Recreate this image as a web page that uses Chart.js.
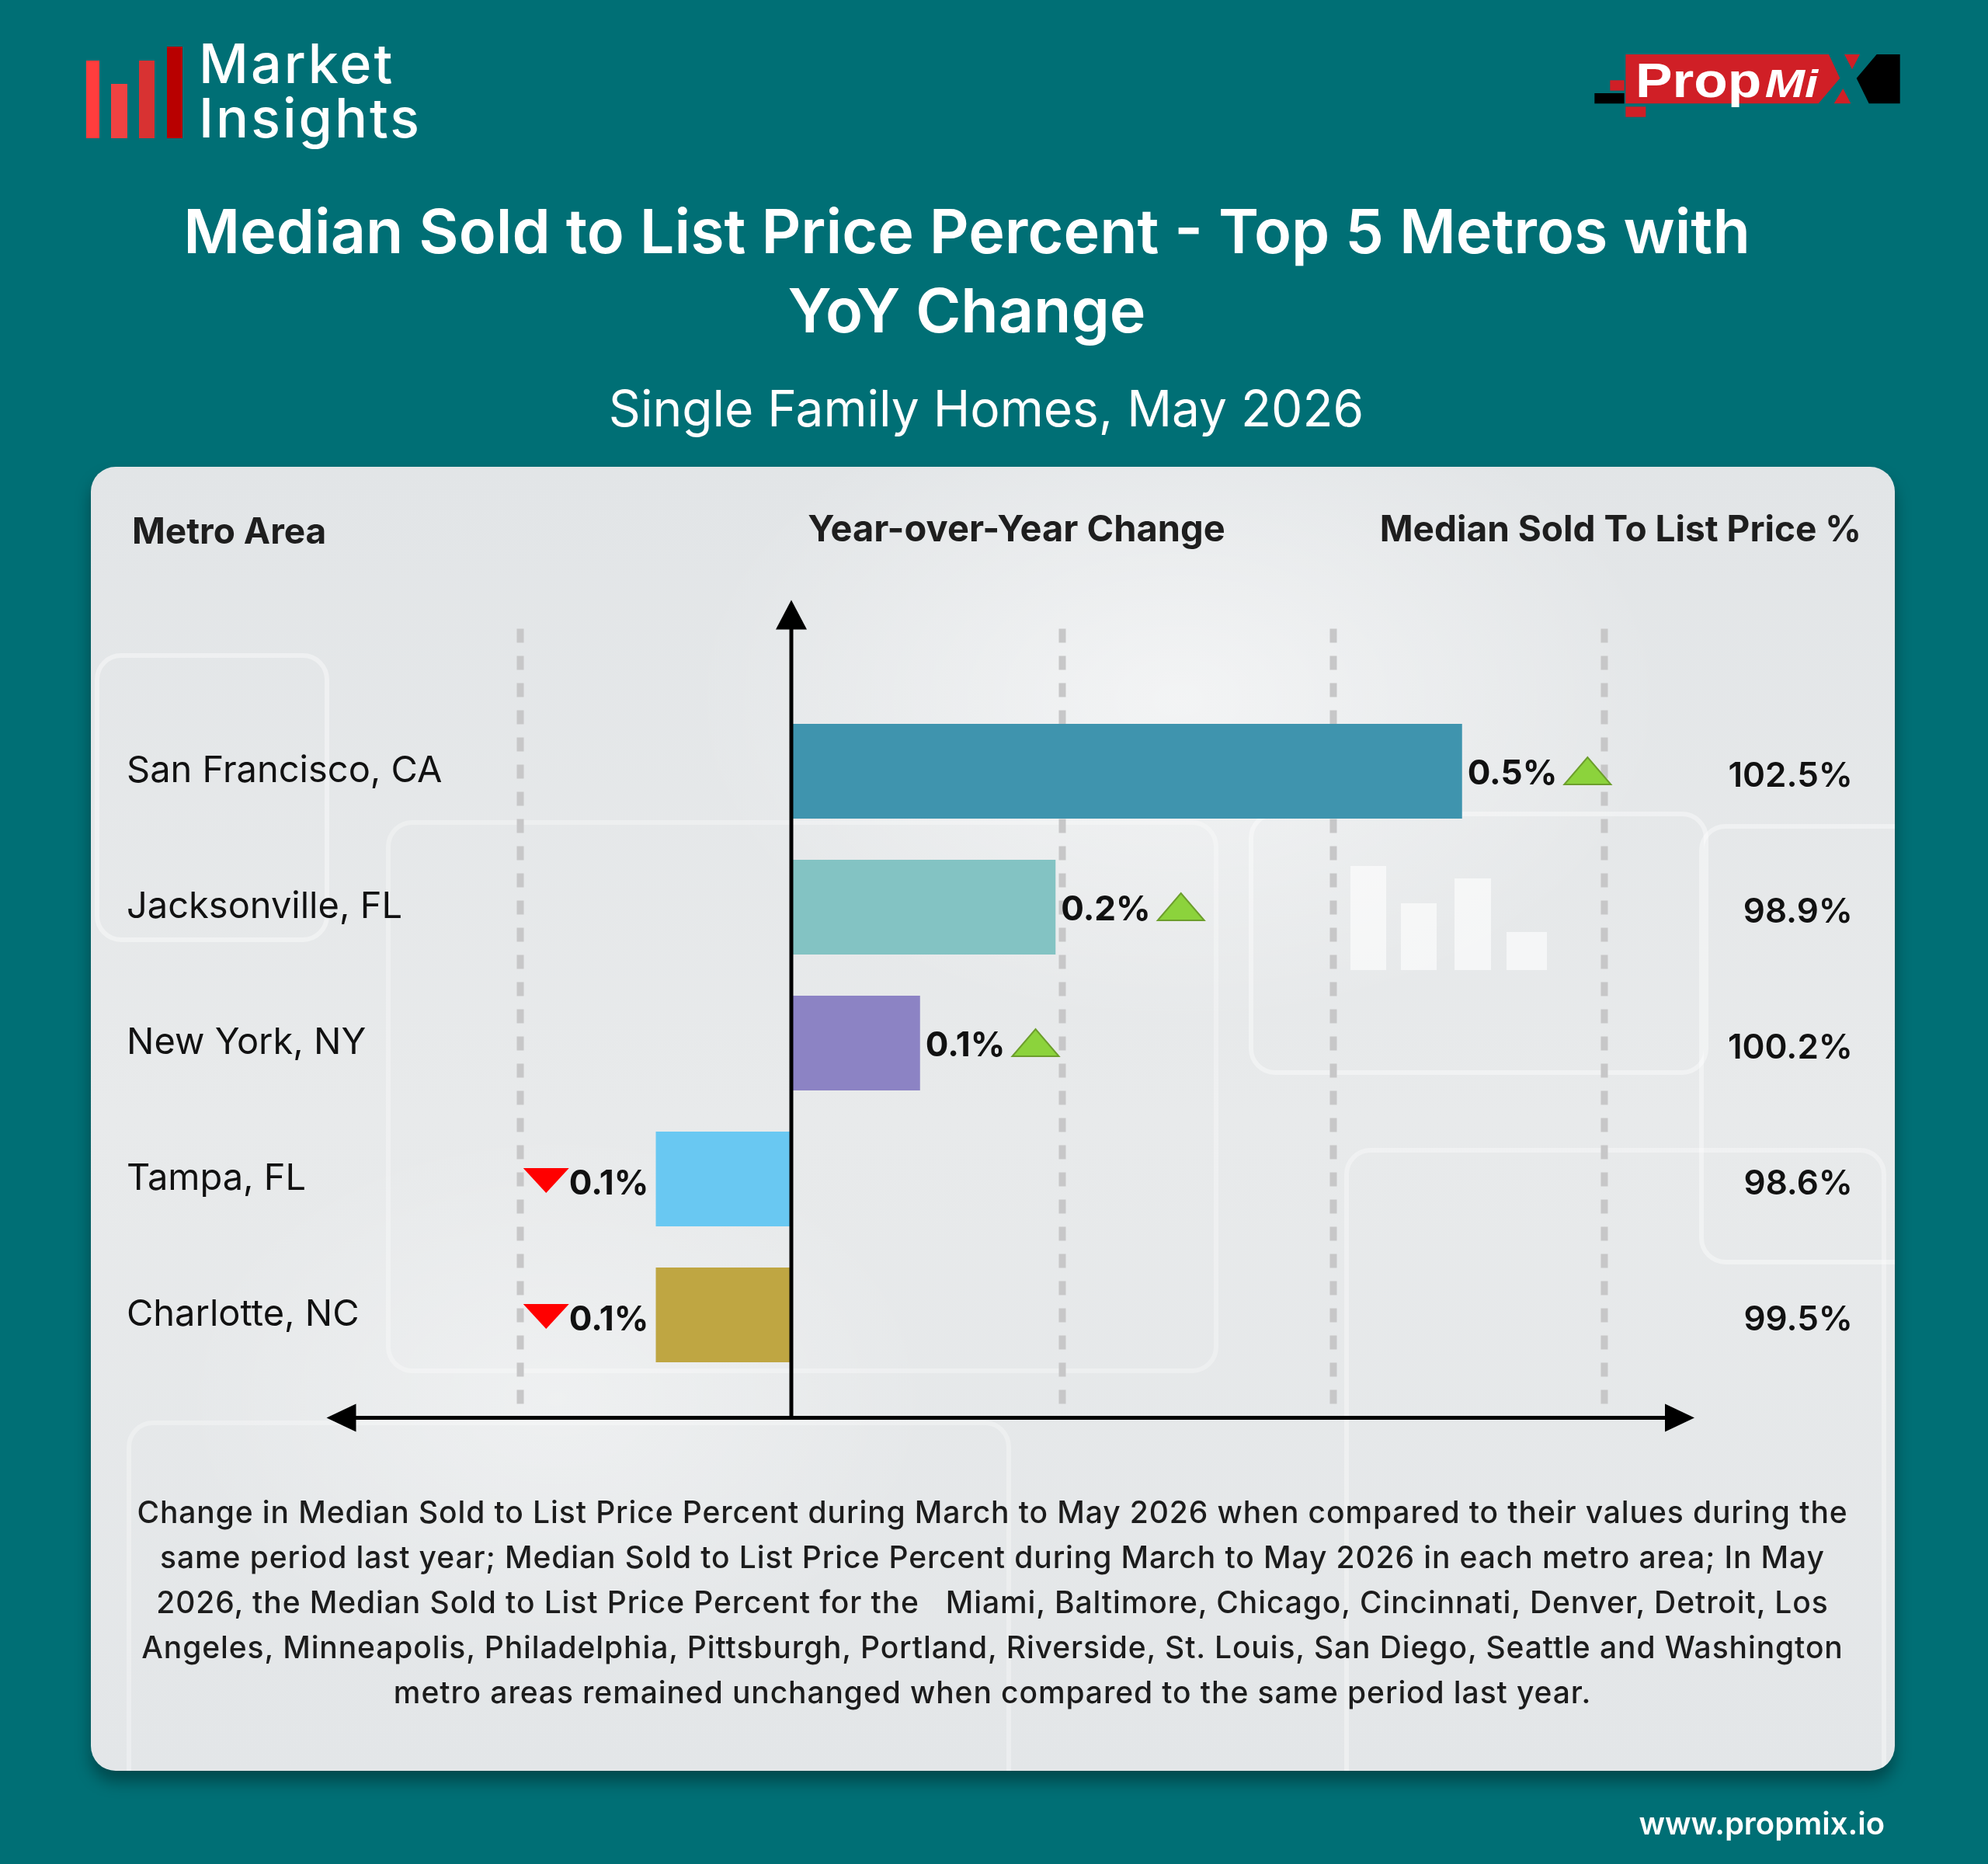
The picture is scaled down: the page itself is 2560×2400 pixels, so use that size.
<!DOCTYPE html>
<html lang="en">
<head>
<meta charset="UTF-8">
<title>Median Sold to List Price Percent - Top 5 Metros</title>
<script src="https://cdn.jsdelivr.net/npm/chart.js"></script>
<style>
  html, body { margin: 0; padding: 0; }
  body { width: 2560px; height: 2400px; background: #006f75; position: relative; overflow: hidden; font-family: Inter, "Noto Sans", sans-serif; }
  .abs { position: absolute; white-space: nowrap; }
  #panel {
    position: absolute; left: 117px; top: 601px; width: 2323px; height: 1679px;
    border-radius: 32px; overflow: hidden;
    background:
      radial-gradient(ellipse 900px 600px at 1400px 300px, rgba(255,255,255,0.55), rgba(255,255,255,0) 70%),
      radial-gradient(ellipse 700px 500px at 600px 1200px, rgba(255,255,255,0.35), rgba(255,255,255,0) 70%),
      linear-gradient(180deg, #e2e5e7 0%, #e8eaeb 50%, #e3e6e8 100%);
    box-shadow: 0 14px 20px rgba(0,0,0,0.35);
    z-index: 1;
  }
  .deco { position: absolute; border: 6px solid rgba(255,255,255,0.4); border-radius: 34px; }
  .ghost { position: absolute; background: rgba(255,255,255,0.6); }
  #chart { position: absolute; left: 0; top: 0; z-index: 2; }
  .txt { z-index: 3; }
  .logo { color: #fff; font-size: 70px; line-height: 70px; font-weight: 500; letter-spacing: 3px; }
  .title { color: #fff; font-weight: 600; font-size: 79px; line-height: 102px; text-align: center; }
  .head { color: #1e1e1e; font-weight: 700; font-size: 46px; line-height: 46px; }
  .note { color: #1c1c1c; font-weight: 500; font-size: 39px; line-height: 58px; letter-spacing: 0.9px; text-align: center; }
</style>
</head>
<body>

<!-- Market Insights logo -->
<div class="abs" style="left:111px;top:78px;width:17px;height:100px;background:#ff3d3d"></div>
<div class="abs" style="left:143px;top:108px;width:21px;height:70px;background:#f04242"></div>
<div class="abs" style="left:179px;top:78px;width:20px;height:100px;background:#d83232"></div>
<div class="abs" style="left:215px;top:60px;width:20px;height:118px;background:#b80000"></div>
<div class="abs txt logo" style="left:256px;top:47px">Market</div>
<div class="abs txt logo" style="left:256px;top:117px">Insights</div>

<!-- PropMix logo -->
<svg class="abs" style="left:2030px;top:50px" width="440" height="120" viewBox="0 0 1320 360">
  <polygon points="190,60 975,60 1018,152 935,250 190,250" fill="#d01f26"/>
  <polygon points="1035,60 1095,60 1065,118" fill="#d01f26"/>
  <polygon points="995,250 1060,250 1030,192" fill="#d01f26"/>
  <polygon points="1160,60 1250,60 1250,250 1130,250 1082,152" fill="#000"/>
  <rect x="130" y="160" width="55" height="40" fill="#d01f26"/>
  <rect x="70" y="210" width="115" height="40" fill="#000"/>
  <rect x="190" y="262" width="78" height="40" fill="#d01f26"/>
  <text x="228" y="225" fill="#fff" font-family="Liberation Sans, Arial, sans-serif" font-weight="700" font-size="188" textLength="487" lengthAdjust="spacingAndGlyphs">Prop</text>
  <text x="728" y="225" fill="#fff" font-family="Liberation Sans, Arial, sans-serif" font-weight="700" font-style="italic" font-size="150" textLength="205" lengthAdjust="spacingAndGlyphs">Mi</text>
</svg>

<!-- Titles -->
<div class="abs txt title" style="left:0;top:246px;width:2490px">Median Sold to List Price Percent - Top 5 Metros with<br>YoY Change</div>
<div class="abs txt" style="left:0;top:494px;width:2540px;text-align:center;color:#fff;font-size:64px;line-height:64px;font-weight:400">Single Family Homes, May 2026</div>

<!-- Panel -->
<div id="panel">
  <div class="deco" style="left:5px;top:240px;width:290px;height:360px"></div>
  <div class="deco" style="left:380px;top:455px;width:1060px;height:700px;border-color:rgba(255,255,255,0.3)"></div>
  <div class="deco" style="left:1491px;top:444px;width:580px;height:327px"></div>
  <div class="deco" style="left:2071px;top:460px;width:290px;height:555px"></div>
  <div class="deco" style="left:1614px;top:877px;width:686px;height:880px;border-color:rgba(255,255,255,0.35)"></div>
  <div class="deco" style="left:46px;top:1228px;width:1127px;height:500px;border-color:rgba(255,255,255,0.3)"></div>
  <div class="ghost" style="left:1622px;top:514px;width:46px;height:134px"></div>
  <div class="ghost" style="left:1687px;top:562px;width:46px;height:86px"></div>
  <div class="ghost" style="left:1756px;top:530px;width:47px;height:118px"></div>
  <div class="ghost" style="left:1823px;top:599px;width:52px;height:49px"></div>
</div>

<!-- Panel headers -->
<div class="abs txt head" style="left:170px;top:660px">Metro Area</div>
<div class="abs txt head" style="left:709px;top:657px;width:1200px;text-align:center;font-size:47px">Year-over-Year Change</div>
<div class="abs txt head" style="left:1397px;top:657px;width:1000px;text-align:right">Median Sold To List Price %</div>

<canvas id="chart" width="2560" height="2400"></canvas>

<!-- Footnote -->
<div class="abs txt note" style="left:0;top:1918px;width:2556px">Change in Median Sold to List Price Percent during March to May 2026 when compared to their values during the<br>same period last year; Median Sold to List Price Percent during March to May 2026 in each metro area; In May<br>2026, the Median Sold to List Price Percent for the &nbsp; Miami, Baltimore, Chicago, Cincinnati, Denver, Detroit, Los<br>Angeles, Minneapolis, Philadelphia, Pittsburgh, Portland, Riverside, St. Louis, San Diego, Seattle and Washington<br>metro areas remained unchanged when compared to the same period last year.</div>

<div class="abs txt" style="left:1427px;top:2328px;width:1000px;text-align:right;color:#fff;font-size:40px;line-height:40px;font-weight:600">www.propmix.io</div>

<script>
  // data
  const metros = ['San Francisco, CA', 'Jacksonville, FL', 'New York, NY', 'Tampa, FL', 'Charlotte, NC'];
  const yoyChange = [0.495, 0.195, 0.095, -0.1, -0.1];
  const medianSoldToList = [102.5, 98.9, 100.2, 98.6, 99.5];
  const gridTicks = [-0.2, 0.2, 0.4, 0.6];
  const axisExtent = [-0.343, 0.6665];
  const barColors = ['#3f94ae', '#83c3c3', '#8c83c4', '#69c8f2', '#bfa642'];

  const decor = {
    id: 'decor',
    beforeDatasetsDraw(chart) {
      const { ctx, chartArea, scales: { x } } = chart;
      ctx.save();
      ctx.strokeStyle = '#c7c7c8';
      ctx.lineWidth = 9;
      ctx.setLineDash([18, 17]);
      gridTicks.forEach(t => {
        const px = x.getPixelForValue(t);
        ctx.beginPath();
        ctx.moveTo(px, chartArea.top - 96);
        ctx.lineTo(px, chartArea.bottom + 38);
        ctx.stroke();
      });
      ctx.restore();
    },
    afterDatasetsDraw(chart) {
      const { ctx, chartArea, scales: { x, y } } = chart;
      const zero = x.getPixelForValue(0);
      const left = x.getPixelForValue(axisExtent[0]);
      const right = x.getPixelForValue(axisExtent[1]);
      const axisY = chartArea.bottom + 45;
      const topY = chartArea.top - 133;
      ctx.save();
      ctx.fillStyle = '#000';
      ctx.strokeStyle = '#000';
      ctx.lineWidth = 5;
      // vertical axis with arrow
      ctx.beginPath();
      ctx.moveTo(zero, axisY);
      ctx.lineTo(zero, topY + 36);
      ctx.stroke();
      ctx.beginPath();
      ctx.moveTo(zero - 20, topY + 38);
      ctx.lineTo(zero + 20, topY + 38);
      ctx.lineTo(zero, topY);
      ctx.closePath();
      ctx.fill();
      // horizontal axis with arrows both ends
      ctx.beginPath();
      ctx.moveTo(left + 30, axisY);
      ctx.lineTo(right - 30, axisY);
      ctx.stroke();
      ctx.beginPath();
      ctx.moveTo(left, axisY);
      ctx.lineTo(left + 38, axisY - 18);
      ctx.lineTo(left + 38, axisY + 18);
      ctx.closePath();
      ctx.fill();
      ctx.beginPath();
      ctx.moveTo(right, axisY);
      ctx.lineTo(right - 38, axisY - 18);
      ctx.lineTo(right - 38, axisY + 18);
      ctx.closePath();
      ctx.fill();

      // bar labels with arrows
      const bars = chart.getDatasetMeta(0).data;
      ctx.font = '700 44px Inter';
      ctx.textBaseline = 'alphabetic';
      bars.forEach((bar, i) => {
        const v = yoyChange[i];
        const label = Math.abs(v).toFixed(1) + '%';
        const w = ctx.measureText(label).width;
        ctx.fillStyle = '#111';
        if (v >= 0) {
          const tx = bar.x + 7;
          ctx.textAlign = 'left';
          ctx.fillText(label, tx, bar.y + 17);
          const l = tx + w + 9;
          ctx.beginPath();
          ctx.moveTo(l, bar.y + 17);
          ctx.lineTo(l + 60, bar.y + 17);
          ctx.lineTo(l + 30, bar.y - 18);
          ctx.closePath();
          ctx.fillStyle = '#8cd33c';
          ctx.fill();
          ctx.lineWidth = 2;
          ctx.strokeStyle = '#6c9e2c';
          ctx.stroke();
        } else {
          const tx = bar.x - 9;
          ctx.textAlign = 'right';
          ctx.fillText(label, tx, bar.y + 20);
          const r = tx - w;
          ctx.beginPath();
          ctx.moveTo(r - 59, bar.y - 14);
          ctx.lineTo(r, bar.y - 14);
          ctx.lineTo(r - 29.5, bar.y + 18);
          ctx.closePath();
          ctx.fillStyle = '#ff0000';
          ctx.fill();
        }
      });

      // right column: median sold to list %
      ctx.font = '600 44px Inter';
      ctx.textAlign = 'right';
      ctx.fillStyle = '#111';
      medianSoldToList.forEach((m, i) => {
        ctx.fillText(m.toFixed(1) + '%', 2386, y.getPixelForValue(i) + 20);
      });
      ctx.restore();
    }
  };

  function drawChart() {
    new Chart(document.getElementById('chart'), {
      type: 'bar',
      data: {
        labels: metros,
        datasets: [{
          data: yoyChange,
          backgroundColor: barColors,
          borderWidth: 0,
          categoryPercentage: 1,
          barPercentage: 0.697
        }]
      },
      options: {
        indexAxis: 'y',
        responsive: false,
        animation: false,
        devicePixelRatio: 1,
        layout: { padding: { left: 163, right: 378, top: 905.5, bottom: 619.5 } },
        plugins: { legend: { display: false }, tooltip: { enabled: false } },
        scales: {
          x: { type: 'linear', min: -0.2172, max: 0.6665, display: false },
          y: {
            type: 'category',
            position: 'left',
            grid: { display: false },
            border: { display: false },
            ticks: {
              crossAlign: 'far',
              padding: 0,
              color: '#111',
              font: { family: 'Inter', size: 47, weight: '400' }
            },
            afterFit(scale) { scale.width = 477; }
          }
        }
      },
      plugins: [decor]
    });
  }

  Promise.all([
    document.fonts.load('400 47px Inter'),
    document.fonts.load('600 44px Inter'),
    document.fonts.load('700 44px Inter')
  ]).then(drawChart, drawChart);
</script>
</body>
</html>
